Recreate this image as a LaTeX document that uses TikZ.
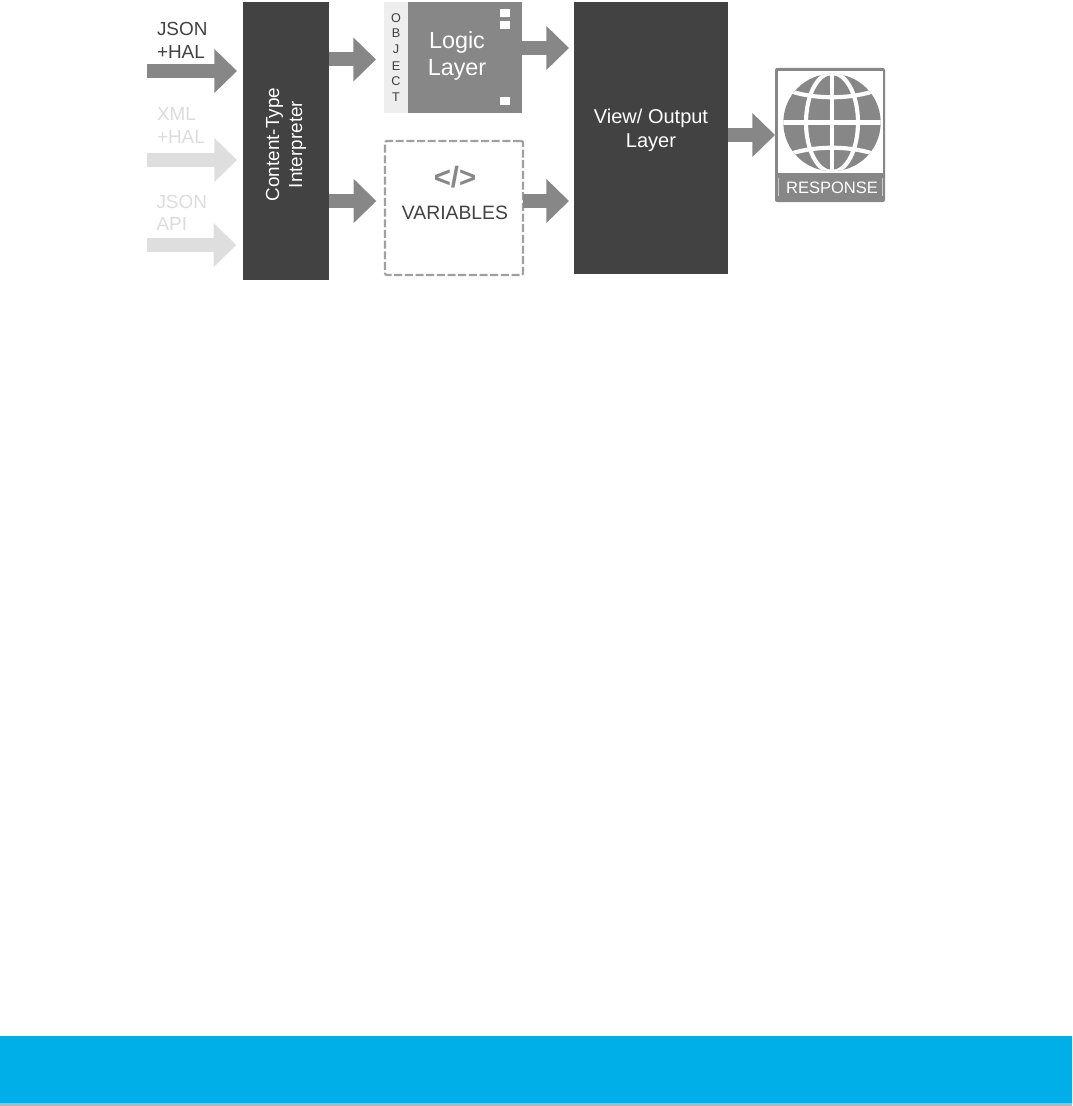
\documentclass[tikz,border=0pt]{standalone}
\usepackage{fontspec}
\setmainfont{Liberation Sans}
\usetikzlibrary{arrows.meta}
\definecolor{darkbox}{HTML}{424242}
\definecolor{midgray}{HTML}{878787}
\definecolor{lightarrow}{HTML}{DEDEDE}
\definecolor{lighttext}{HTML}{DCDCDC}
\definecolor{stripgray}{HTML}{EEEEEE}
\definecolor{dashgray}{HTML}{A0A0A0}
\definecolor{barblue}{HTML}{00AEE8}
\definecolor{barshadow}{HTML}{B5B5B5}
\tikzset{
  block/.style={inner sep=0pt,outer sep=0pt,minimum width=#1*.75pt},
  bigarrow/.style={draw=midgray,line width=10.5pt,-{Triangle[length=17pt,width=32pt,fill=midgray]}},
  lightbigarrow/.style={bigarrow,draw=lightarrow,-{Triangle[length=17pt,width=32pt,fill=lightarrow]}},
  lab/.style={inner sep=0pt,outer sep=0pt,font=\fontsize{14.2}{17}\selectfont,anchor=west},
  objletter/.style={inner sep=0pt,font=\fontsize{9.5}{11}\selectfont,text=black!75},
  sq/.style={fill=white,inner sep=0pt,minimum width=7.5pt,minimum height=6pt},
  globeline/.style={white,line width=3.1pt},
}
\begin{document}
\begin{tikzpicture}[x=.75pt,y=-.75pt]
\useasboundingbox (0,0) rectangle (1072,1106);
% bottom bar
\fill[barshadow] (0,1103) rectangle (1072,1105.6);
\node[block=1072,minimum height=50.25pt,fill=barblue] (bar) at (536,1069.5) {};
% main boxes
\node[block=86,minimum height=208.5pt,fill=darkbox] (interp) at (286,141) {};
\node[rotate=90,text=white,align=center,inner sep=0pt,font=\fontsize{14.2}{17.25}\selectfont] (interptext) at (286,144.5) {Content-Type\\Interpreter};
\node[block=24,minimum height=83.25pt,fill=stripgray] (obj) at (396,57.5) {};
\node[block=114,minimum height=83.25pt,fill=midgray] (logic) at (465,57.5) {};
\node[text=white,align=center,inner sep=0pt,font=\fontsize{17.5}{20.25}\selectfont] (logictext) at (457,55.5) {Logic\\Layer};
\node[sq] (s1) at (505,13) {};
\node[sq] (s2) at (505,25) {};
\node[sq] (s3) at (505,101) {};
\foreach \nm/\ch/\yy in {o1/O/18,o2/B/33,o3/J/49,o4/E/66,o5/C/81,o6/T/97}{
  \node[objletter] (\nm) at (396,\yy) {\ch};
}
\node[block=138,minimum height=100.5pt,draw=dashgray,line width=1.7pt,dash pattern=on 6pt off 2pt,rounded corners=1.5pt,fill=white] (vars) at (454,208) {};
\node[inner sep=0pt,text=midgray,font=\fontsize{22}{24}\bfseries\selectfont] (code) at (455,177.5) {</>};
\node[inner sep=0pt,text=darkbox,font=\fontsize{14.5}{17}\selectfont] (varstext) at (455,213) {VARIABLES};
\node[block=154,minimum height=204pt,fill=darkbox] (view) at (651,138) {};
\node[text=white,align=center,inner sep=0pt,font=\fontsize{15}{18}\selectfont] (viewtext) at (651,130) {View/ Output\\Layer};
% response
\node[block=110,minimum height=100.5pt,fill=midgray,rounded corners=1.5pt] (resp) at (830,135) {};
\fill[white] (777.5,71) rectangle (883,173);
\draw[white,opacity=.55,line width=.6pt] (778,178) -- (778,196) (882.5,178) -- (882.5,196);
\node[circle,fill=midgray,minimum size=73pt,inner sep=0pt] (globe) at (832,122.5) {};
\begin{scope}
  \clip (832,122.5) circle [radius=48.7];
  \draw[globeline] (780,122.5) -- (884,122.5) (832,70) -- (832,175);
  \draw[globeline] (832,122.5) ellipse [x radius=26,y radius=49.5];
  \draw[globeline] (785,89) .. controls (810,100) and (854,100) .. (879,89);
  \draw[globeline] (785,156) .. controls (810,145) and (854,145) .. (879,156);
\end{scope}
\node[inner sep=0pt,text=white,font=\fontsize{12.4}{14}\selectfont] (resptext) at (832,187.5) {RESPONSE};
% input labels
\node[lab,text=darkbox] (t1) at (157,29) {JSON};
\node[lab,text=darkbox] (t2) at (157,52) {+HAL};
\node[lab,text=lighttext] (t3) at (157,114) {XML};
\node[lab,text=lighttext] (t4) at (157,137) {+HAL};
\node[lab,text=lighttext] (t5) at (156.5,202) {JSON};
\node[lab,text=lighttext] (t6) at (156.5,224) {API};
% connectors
\coordinate (in1) at (147,71);
\coordinate (in2) at (147,160);
\coordinate (in3) at (147,245);
\draw[bigarrow,shorten >=4.5pt] (in1) -- (interp.west |- in1);
\draw[lightbigarrow,shorten >=4.5pt] (in2) -- (interp.west |- in2);
\draw[lightbigarrow,shorten >=5pt] (in3) -- (interp.west |- in3);
\coordinate (y1) at (0,59.5);
\coordinate (y2) at (0,201);
\coordinate (y3) at (0,48);
\coordinate (y4) at (0,135);
\draw[bigarrow,shorten >=6pt] (interp.east |- y1) -- (obj.west |- y1);
\draw[bigarrow,shorten >=6.5pt] (interp.east |- y2) -- (vars.west |- y2);
\draw[bigarrow,shorten >=3.75pt] (logic.east |- y3) -- (view.west |- y3);
\draw[bigarrow,shorten >=3.75pt] (vars.east |- y2) -- (view.west |- y2);
\draw[bigarrow] (view.east |- y4) -- (resp.west |- y4);
\end{tikzpicture}
\end{document}
